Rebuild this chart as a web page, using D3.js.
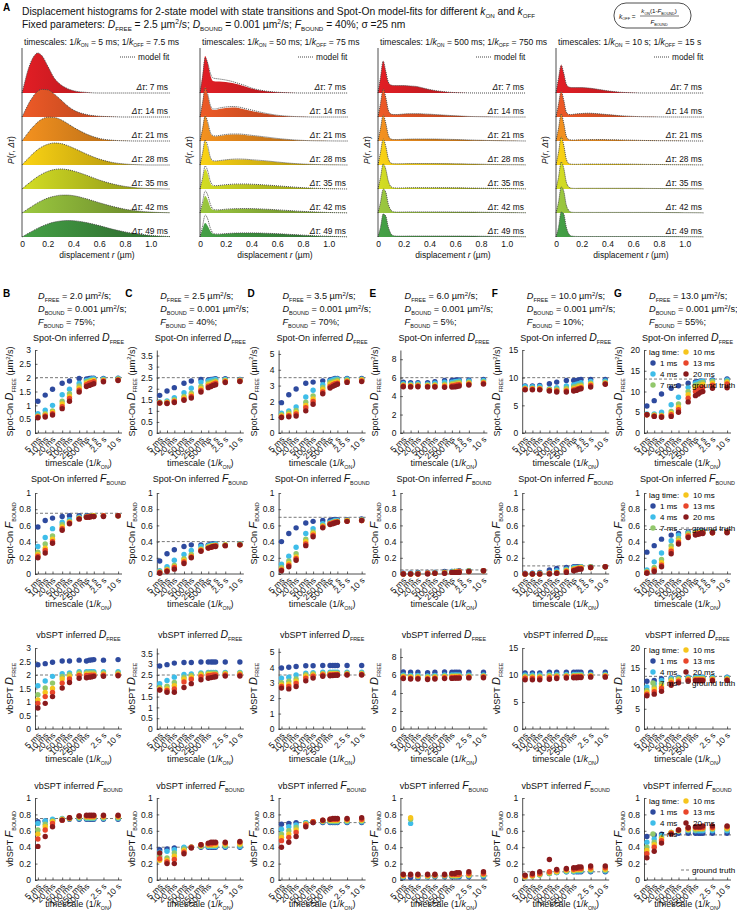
<!DOCTYPE html>
<html><head><meta charset="utf-8">
<script src="https://cdn.jsdelivr.net/npm/d3@7"></script>
<style>body{margin:0;background:#fff} svg{font-family:"Liberation Sans",Arial,Helvetica,sans-serif}</style>
</head><body><svg id="c" width="737" height="912"></svg>
<script>
// ---------------- DATA: panel A histograms ----------------
const rGrid = [0, 0.02, 0.04, 0.06, 0.08, 0.1, 0.12, 0.15, 0.2, 0.25, 0.3, 0.35, 0.4, 0.5, 0.6, 0.7, 0.8, 0.9, 1.0, 1.1, 1.15];
const lagLabelsA = ["7 ms", "14 ms", "21 ms", "28 ms", "35 ms", "42 ms", "49 ms"];
const kOnLabels = ["5 ms", "50 ms", "500 ms", "10 s"];
const kOffLabels = ["7.5 ms", "75 ms", "750 ms", "15 s"];
const rTicks = [0, 0.2, 0.4, 0.6, 0.8, 1.0];

const hist5ms = [
  [0, 10, 20, 28, 34, 38, 40, 38, 27, 15, 8.4, 4.6, 2.3, 0.6, 0, 0, 0, 0, 0, 0, 0],
  [0, 5.3, 10.4, 15.4, 19.3, 23, 25.5, 27.6, 27.2, 23, 17.4, 11.5, 7, 2.5, 0.8, 0.3, 0, 0, 0, 0, 0],
  [0, 3.6, 7, 10.3, 13.4, 16, 18.7, 21.4, 23.8, 23.5, 21.4, 17.8, 13.7, 7, 2.6, 0.8, 0.2, 0, 0, 0, 0],
  [0, 2.9, 5.5, 8.1, 10.8, 13, 15.2, 17.8, 20.7, 22, 21.5, 19.6, 16.9, 11, 5.9, 2.6, 1, 0.3, 0, 0, 0],
  [0, 2.2, 4.4, 6.4, 8.4, 10.4, 12.2, 14.6, 17.6, 19.4, 20, 19.4, 18, 13.8, 9, 5.2, 2.6, 1.1, 0.4, 0.1, 0],
  [0, 1.8, 3.6, 5.2, 6.8, 8.5, 10.1, 12.1, 14.9, 16.7, 17.8, 17.9, 17.3, 14.2, 10.3, 6.7, 3.8, 2, 0.9, 0.4, 0.2],
  [0, 1.5, 3, 4.5, 5.8, 7.3, 8.6, 10.4, 13, 14.9, 16, 16.5, 16.3, 14.4, 11.4, 7.9, 5.1, 3, 1.6, 0.7, 0.4]
];
const hist50ms = [
  [0, 18, 37, 30, 18, 12, 11.5, 11.5, 11, 10, 8.5, 6.5, 4.5, 2, 0.7, 0.2, 0, 0, 0, 0, 0],
  [0, 15, 30, 22, 11, 7, 7, 8, 9, 9.5, 9, 7.5, 6, 3.5, 1.6, 0.6, 0.2, 0, 0, 0, 0],
  [0, 13, 26, 18, 8, 5, 4.5, 5, 6, 6.5, 6.5, 6, 5.2, 3.8, 2.3, 1.2, 0.5, 0.2, 0.1, 0, 0],
  [0, 12, 24, 17, 7, 4, 3.8, 4.2, 5, 5.5, 5.6, 5.4, 5, 4, 2.8, 1.7, 0.9, 0.4, 0.2, 0.1, 0],
  [0, 10, 20, 15, 6, 3.3, 3, 3.4, 4.1, 4.6, 4.8, 4.8, 4.6, 3.9, 3, 2, 1.2, 0.6, 0.3, 0.1, 0],
  [0, 9, 17, 13, 6, 3.2, 2.8, 3, 3.6, 4, 4.2, 4.3, 4.2, 3.8, 3.1, 2.3, 1.5, 0.9, 0.5, 0.2, 0.1],
  [0, 8, 14, 11, 6, 3.3, 2.8, 2.8, 3.3, 3.7, 3.9, 4, 4, 3.7, 3.2, 2.5, 1.8, 1.1, 0.7, 0.3, 0.1]
];
const fit50ms = [
  [0, 16, 35, 30, 20, 15, 14.5, 14, 13, 11.5, 9.5, 7.5, 5, 2.2, 0.8, 0.2, 0, 0, 0, 0, 0],
  [0, 14, 29, 23, 12, 8, 8, 9, 10, 10.5, 10, 8.5, 7, 4, 1.8, 0.7, 0.2, 0, 0, 0, 0],
  [0, 12, 25, 19, 9, 5.5, 5, 5.5, 6.5, 7, 7, 6.5, 5.7, 4.2, 2.6, 1.4, 0.6, 0.2, 0.1, 0, 0],
  [0, 12, 25, 19, 8, 4.3, 4, 4.4, 5.2, 5.8, 6, 5.8, 5.3, 4.3, 3, 1.8, 1, 0.5, 0.2, 0.1, 0],
  [0, 11, 23, 18, 8, 3.8, 3.3, 3.6, 4.3, 4.8, 5, 5, 4.8, 4.1, 3.2, 2.2, 1.3, 0.7, 0.3, 0.1, 0],
  [0, 11, 22, 18, 9, 4, 3.2, 3.2, 3.8, 4.2, 4.4, 4.5, 4.4, 3.9, 3.2, 2.4, 1.6, 1, 0.5, 0.2, 0.1],
  [0, 11, 22, 18, 9, 4, 3, 3, 3.4, 3.8, 4, 4.1, 4.1, 3.8, 3.3, 2.6, 1.9, 1.2, 0.7, 0.3, 0.1]
];
const hist500ms = [
  [0, 16, 32, 22, 11, 8, 7.5, 7.5, 7.5, 7, 6.5, 5, 3.5, 1.5, 0.4, 0.1, 0, 0, 0, 0, 0],
  [0, 14, 28, 20, 7, 3, 2.5, 2.5, 3, 3.3, 3.3, 3.1, 2.8, 2, 1.2, 0.6, 0.3, 0.1, 0, 0, 0],
  [0, 13, 26, 18, 6, 2, 1.5, 1.5, 1.7, 1.9, 2, 2, 2, 1.8, 1.5, 1.1, 0.7, 0.4, 0.2, 0.1, 0],
  [0, 13, 26, 19, 6.5, 2, 1.3, 1.2, 1.3, 1.4, 1.5, 1.5, 1.5, 1.4, 1.2, 1, 0.8, 0.5, 0.3, 0.2, 0.1],
  [0, 12, 25, 20, 8, 2.5, 1.2, 1, 1.1, 1.2, 1.3, 1.3, 1.3, 1.3, 1.2, 1, 0.8, 0.6, 0.4, 0.2, 0.1],
  [0, 11, 24, 21, 9, 3, 1.2, 0.9, 1, 1.1, 1.1, 1.1, 1.1, 1.1, 1, 0.9, 0.8, 0.6, 0.4, 0.3, 0.2],
  [0, 10, 23, 21, 10, 3.5, 1.3, 0.9, 0.9, 1, 1, 1, 1, 1, 1, 0.9, 0.8, 0.6, 0.5, 0.3, 0.2]
];
const hist10s = [
  [0, 15, 28, 20, 9, 6, 5.5, 5.5, 5.5, 5, 4.2, 3.2, 2.2, 0.8, 0.2, 0, 0, 0, 0, 0, 0],
  [0, 13, 26, 17, 5, 2.5, 2.5, 3, 3.5, 3.8, 3.5, 3, 2.4, 1.3, 0.6, 0.2, 0.1, 0, 0, 0, 0],
  [0, 13, 27, 18, 5, 1.5, 1, 1, 1.2, 1.3, 1.4, 1.4, 1.3, 1.1, 0.8, 0.5, 0.3, 0.2, 0.1, 0, 0],
  [0, 13, 28, 20, 6, 1.5, 0.8, 0.7, 0.8, 0.9, 0.9, 0.9, 0.9, 0.9, 0.8, 0.6, 0.5, 0.3, 0.2, 0.1, 0.1],
  [0, 12, 27, 21, 7, 2, 0.8, 0.6, 0.7, 0.7, 0.7, 0.7, 0.7, 0.7, 0.7, 0.6, 0.5, 0.4, 0.3, 0.2, 0.1],
  [0, 11, 26, 22, 8, 2.5, 0.8, 0.6, 0.6, 0.6, 0.6, 0.6, 0.6, 0.6, 0.6, 0.6, 0.5, 0.4, 0.3, 0.2, 0.1],
  [0, 10, 25, 23, 10, 3, 1, 0.6, 0.5, 0.5, 0.5, 0.5, 0.5, 0.5, 0.5, 0.5, 0.5, 0.4, 0.3, 0.2, 0.1]
];

// ---------------- DATA: panels B-G ----------------
const timescales = [5, 10, 20, 50, 100, 250, 500, 650, 800, 1000, 2500, 10000]; // ms
const tickValsSpotOn = [5, 10, 20, 50, 100, 250, 500, 1000, 2500, 10000];
const tickLabelsSpotOn = ["5 ms", "10 ms", "20 ms", "50 ms", "100 ms", "250 ms", "500 ms", "1 s", "2.5 s", "10 s"];
const tickValsVb = [5, 10, 20, 50, 100, 250, 500, 2500, 10000];
const tickLabelsVb = ["5 ms", "10 ms", "20 ms", "50 ms", "100 ms", "250 ms", "500 ms", "2.5 s", "10 s"];
const lagTimes = ["1 ms", "4 ms", "7 ms", "10 ms", "13 ms", "20 ms"];
const panelLetters = ["B", "C", "D", "E", "F", "G"];
const dFreeText = ["2.0", "2.5", "3.5", "6.0", "10.0", "13.0"];
const fBoundText = ["75%", "40%", "70%", "5%", "10%", "55%"];
const dFreeTruth = [2.0, 2.5, 3.5, 6.0, 10.0, 13.0];
const fBoundTruth = [0.75, 0.40, 0.70, 0.05, 0.10, 0.55];
const dAxisMax = [3, 3.75, 5.25, 9, 15, 20];
const dAxisStep = [0.5, 0.5, 1, 2, 5, 5];

const spotD_B = [
  [1.15, 1.37, 1.58, 1.8, 1.88, 1.97, 1.95, 1.97, 1.98, 1.98, 1.97, 1.98],
  [0.7, 0.82, 1.0, 1.38, 1.58, 1.8, 1.9, 1.92, 1.95, 1.96, 1.95, 1.97],
  [0.62, 0.7, 0.8, 1.15, 1.42, 1.7, 1.85, 1.88, 1.9, 1.92, 1.93, 1.95],
  [0.6, 0.65, 0.75, 1.05, 1.32, 1.62, 1.8, 1.84, 1.87, 1.9, 1.9, 1.93],
  [0.58, 0.62, 0.7, 0.95, 1.25, 1.55, 1.75, 1.8, 1.82, 1.85, 1.88, 1.92],
  [0.55, 0.58, 0.65, 0.88, 1.15, 1.48, 1.68, 1.72, 1.75, 1.78, 1.85, 1.9]
];
const spotD_C = [
  [1.7, 1.9, 2.05, 2.25, 2.35, 2.42, 2.4, 2.42, 2.43, 2.45, 2.45, 2.42],
  [1.4, 1.45, 1.6, 1.82, 2.02, 2.3, 2.35, 2.38, 2.4, 2.42, 2.42, 2.4],
  [1.38, 1.4, 1.5, 1.65, 1.8, 2.1, 2.25, 2.28, 2.32, 2.35, 2.38, 2.38],
  [1.37, 1.38, 1.45, 1.58, 1.72, 2.0, 2.18, 2.22, 2.26, 2.3, 2.35, 2.37],
  [1.36, 1.36, 1.42, 1.52, 1.65, 1.92, 2.12, 2.15, 2.2, 2.25, 2.32, 2.35],
  [1.35, 1.33, 1.38, 1.48, 1.58, 1.85, 2.05, 2.1, 2.15, 2.18, 2.28, 2.33]
];
const spotD_D = [
  [1.92, 2.42, 2.78, 3.15, 3.22, 3.3, 3.35, 3.4, 3.45, 3.45, 3.45, 3.45],
  [1.25, 1.4, 1.65, 2.28, 2.7, 3.05, 3.3, 3.35, 3.4, 3.42, 3.42, 3.4],
  [1.15, 1.28, 1.42, 1.95, 2.35, 2.88, 3.2, 3.25, 3.3, 3.35, 3.35, 3.38],
  [1.08, 1.18, 1.3, 1.75, 2.15, 2.75, 3.08, 3.15, 3.2, 3.25, 3.3, 3.35],
  [1.02, 1.1, 1.2, 1.6, 2.0, 2.6, 2.95, 3.05, 3.12, 3.15, 3.25, 3.3],
  [0.98, 1.02, 1.08, 1.4, 1.82, 2.48, 2.85, 2.95, 3.02, 3.08, 3.2, 3.25]
];
const spotD_E = [
  [5.5, 5.45, 5.45, 5.45, 5.55, 5.7, 5.7, 5.72, 5.75, 5.75, 5.75, 5.8],
  [5.35, 5.3, 5.35, 5.3, 5.4, 5.5, 5.5, 5.55, 5.6, 5.65, 5.65, 5.7],
  [5.25, 5.2, 5.25, 5.2, 5.25, 5.3, 5.35, 5.4, 5.45, 5.5, 5.5, 5.55],
  [5.15, 5.12, 5.15, 5.12, 5.15, 5.15, 5.2, 5.25, 5.3, 5.35, 5.4, 5.45],
  [5.1, 5.05, 5.1, 5.05, 5.05, 5.05, 5.1, 5.15, 5.2, 5.25, 5.3, 5.4],
  [5.02, 5.0, 5.02, 5.0, 4.98, 4.95, 4.98, 5.0, 5.05, 5.1, 5.2, 5.3]
];
const spotD_F = [
  [8.5, 8.5, 8.6, 8.9, 9.2, 9.5, 9.5, 9.5, 9.6, 9.7, 9.7, 9.7],
  [8.4, 8.35, 8.4, 8.0, 8.2, 8.5, 8.7, 8.8, 8.9, 9.1, 9.3, 9.4],
  [8.1, 8.1, 8.1, 7.9, 7.9, 8.1, 8.3, 8.4, 8.6, 8.7, 9.0, 9.2],
  [8.0, 8.0, 8.0, 7.8, 7.7, 7.8, 8.0, 8.1, 8.3, 8.4, 8.8, 9.0],
  [7.9, 7.9, 7.9, 7.7, 7.6, 7.6, 7.8, 7.9, 8.0, 8.2, 8.6, 8.9],
  [7.8, 7.8, 7.8, 7.6, 7.4, 7.4, 7.6, 7.7, 7.9, 8.0, 8.3, 8.8]
];
const spotD_G = [
  [6.5, 7.8, 9.4, 10.8, 11.4, 12.0, 12.3, 12.4, 12.5, 12.5, 12.8, 13.0],
  [4.6, 4.6, 5.0, 6.8, 8.6, 11.0, 12.0, 12.2, 12.4, 12.5, 12.6, 12.8],
  [4.5, 4.4, 4.3, 5.2, 7.0, 10.0, 11.5, 11.7, 12.0, 12.2, 12.4, 12.5],
  [4.4, 4.2, 4.1, 4.7, 6.2, 9.2, 10.8, 11.1, 11.4, 11.7, 12.0, 12.2],
  [4.4, 4.1, 4.0, 4.4, 5.6, 8.4, 10.0, 10.4, 10.8, 11.0, 11.5, 11.8],
  [4.4, 4.0, 3.8, 4.0, 5.0, 7.5, 9.0, 9.4, 9.8, 10.0, 10.8, 10.9]
];
const spotF_B = [
  [0.58, 0.66, 0.69, 0.71, 0.72, 0.72, 0.72, 0.72, 0.72, 0.72, 0.72, 0.72],
  [0.34, 0.45, 0.56, 0.64, 0.67, 0.7, 0.71, 0.71, 0.72, 0.72, 0.72, 0.72],
  [0.27, 0.37, 0.47, 0.61, 0.65, 0.69, 0.71, 0.71, 0.72, 0.72, 0.72, 0.72],
  [0.24, 0.32, 0.43, 0.58, 0.64, 0.69, 0.7, 0.71, 0.71, 0.72, 0.72, 0.72],
  [0.22, 0.29, 0.4, 0.56, 0.63, 0.68, 0.7, 0.71, 0.71, 0.71, 0.72, 0.72],
  [0.2, 0.26, 0.38, 0.54, 0.62, 0.68, 0.7, 0.7, 0.71, 0.71, 0.71, 0.72]
];
const spotF_C = [
  [0.16, 0.25, 0.3, 0.34, 0.36, 0.36, 0.36, 0.37, 0.37, 0.37, 0.36, 0.37],
  [0.04, 0.09, 0.17, 0.24, 0.29, 0.34, 0.35, 0.36, 0.36, 0.37, 0.36, 0.37],
  [0.03, 0.06, 0.11, 0.19, 0.24, 0.31, 0.34, 0.35, 0.35, 0.36, 0.36, 0.37],
  [0.02, 0.05, 0.09, 0.17, 0.22, 0.3, 0.33, 0.34, 0.35, 0.35, 0.36, 0.36],
  [0.02, 0.04, 0.08, 0.15, 0.21, 0.29, 0.32, 0.33, 0.34, 0.35, 0.35, 0.36],
  [0.01, 0.03, 0.06, 0.13, 0.2, 0.28, 0.32, 0.33, 0.34, 0.34, 0.35, 0.36]
];
const spotF_D = [
  [0.4, 0.5, 0.57, 0.63, 0.65, 0.66, 0.66, 0.67, 0.67, 0.67, 0.67, 0.68],
  [0.12, 0.22, 0.33, 0.5, 0.56, 0.62, 0.64, 0.65, 0.66, 0.66, 0.66, 0.67],
  [0.08, 0.16, 0.25, 0.43, 0.52, 0.6, 0.63, 0.64, 0.65, 0.65, 0.66, 0.67],
  [0.06, 0.13, 0.21, 0.4, 0.5, 0.59, 0.62, 0.63, 0.64, 0.65, 0.66, 0.66],
  [0.05, 0.11, 0.19, 0.37, 0.48, 0.58, 0.62, 0.63, 0.64, 0.64, 0.65, 0.66],
  [0.04, 0.09, 0.17, 0.35, 0.46, 0.57, 0.61, 0.62, 0.63, 0.64, 0.65, 0.66]
];
const spotF_E = [
  [0.01, 0.01, 0.02, 0.02, 0.02, 0.03, 0.03, 0.03, 0.03, 0.04, 0.04, 0.04],
  [0.0, 0.01, 0.01, 0.01, 0.02, 0.02, 0.03, 0.03, 0.03, 0.03, 0.04, 0.04],
  [0.0, 0.0, 0.01, 0.01, 0.01, 0.02, 0.02, 0.03, 0.03, 0.03, 0.04, 0.04],
  [0.0, 0.0, 0.0, 0.01, 0.01, 0.02, 0.02, 0.02, 0.03, 0.03, 0.03, 0.04],
  [0.0, 0.0, 0.0, 0.01, 0.01, 0.01, 0.02, 0.02, 0.02, 0.03, 0.03, 0.04],
  [0.0, 0.0, 0.0, 0.0, 0.01, 0.01, 0.02, 0.02, 0.02, 0.02, 0.03, 0.04]
];
const spotF_F = [
  [0.01, 0.01, 0.02, 0.05, 0.07, 0.08, 0.09, 0.09, 0.09, 0.09, 0.09, 0.09],
  [0.0, 0.01, 0.01, 0.02, 0.04, 0.06, 0.08, 0.08, 0.08, 0.09, 0.09, 0.09],
  [0.0, 0.0, 0.01, 0.01, 0.02, 0.05, 0.07, 0.07, 0.08, 0.08, 0.09, 0.09],
  [0.0, 0.0, 0.0, 0.01, 0.02, 0.04, 0.06, 0.07, 0.07, 0.08, 0.08, 0.09],
  [0.0, 0.0, 0.0, 0.01, 0.01, 0.03, 0.05, 0.06, 0.07, 0.07, 0.08, 0.09],
  [0.0, 0.0, 0.0, 0.0, 0.01, 0.02, 0.04, 0.05, 0.06, 0.06, 0.08, 0.09]
];
const spotF_G = [
  [0.27, 0.35, 0.43, 0.48, 0.5, 0.52, 0.52, 0.52, 0.53, 0.53, 0.52, 0.53],
  [0.05, 0.15, 0.26, 0.41, 0.48, 0.51, 0.52, 0.52, 0.52, 0.52, 0.52, 0.52],
  [0.03, 0.08, 0.18, 0.35, 0.44, 0.5, 0.51, 0.51, 0.52, 0.52, 0.52, 0.52],
  [0.02, 0.06, 0.14, 0.31, 0.41, 0.48, 0.5, 0.51, 0.51, 0.51, 0.51, 0.52],
  [0.02, 0.05, 0.11, 0.28, 0.39, 0.47, 0.49, 0.5, 0.5, 0.51, 0.51, 0.52],
  [0.01, 0.03, 0.09, 0.25, 0.37, 0.45, 0.48, 0.49, 0.5, 0.5, 0.51, 0.51]
];
const vbD_B = [
  [2.38, 2.42, 2.47, 2.52, 2.52, 2.55, 2.52, 2.55, 2.56, 2.57, 2.55, 2.57],
  [1.6, 1.78, 1.95, 2.05, 2.08, 2.12, 2.12, 2.12, 2.12, 2.12, 2.12, 2.12],
  [1.27, 1.52, 1.7, 1.95, 2.02, 2.08, 2.08, 2.08, 2.08, 2.08, 2.08, 2.08],
  [1.08, 1.35, 1.5, 1.85, 1.95, 2.02, 2.03, 2.03, 2.03, 2.03, 2.03, 2.03],
  [0.95, 1.2, 1.35, 1.7, 1.85, 1.98, 1.98, 1.98, 1.99, 1.99, 1.99, 2.0],
  [0.78, 0.95, 1.2, 1.52, 1.72, 1.88, 1.9, 1.92, 1.93, 1.95, 1.95, 1.97]
];
const vbD_C = [
  [2.92, 2.98, 3.05, 3.08, 3.08, 3.1, 3.1, 3.1, 3.1, 3.1, 3.1, 3.1],
  [2.1, 2.25, 2.4, 2.52, 2.55, 2.6, 2.62, 2.62, 2.62, 2.62, 2.62, 2.62],
  [1.92, 1.98, 2.15, 2.4, 2.48, 2.56, 2.58, 2.58, 2.58, 2.58, 2.58, 2.6],
  [1.85, 1.85, 2.0, 2.3, 2.4, 2.5, 2.52, 2.52, 2.53, 2.53, 2.55, 2.55],
  [1.82, 1.78, 1.85, 2.18, 2.3, 2.42, 2.47, 2.48, 2.5, 2.5, 2.5, 2.5],
  [1.8, 1.7, 1.7, 1.92, 2.1, 2.28, 2.35, 2.38, 2.4, 2.42, 2.45, 2.45]
];
const vbD_D = [
  [3.95, 4.0, 4.05, 4.1, 4.1, 4.12, 4.12, 4.12, 4.12, 4.12, 4.12, 4.12],
  [3.3, 3.35, 3.5, 3.62, 3.65, 3.68, 3.68, 3.68, 3.68, 3.68, 3.68, 3.68],
  [3.0, 3.1, 3.25, 3.52, 3.58, 3.6, 3.62, 3.62, 3.62, 3.62, 3.62, 3.62],
  [2.85, 2.9, 3.1, 3.42, 3.5, 3.55, 3.56, 3.57, 3.57, 3.57, 3.57, 3.57],
  [2.75, 2.75, 2.95, 3.3, 3.42, 3.5, 3.52, 3.52, 3.52, 3.53, 3.53, 3.53],
  [2.65, 2.6, 2.75, 3.12, 3.3, 3.42, 3.45, 3.47, 3.48, 3.48, 3.5, 3.5]
];
const vbD_E = [
  [6.35, 6.3, 6.3, 6.25, 6.3, 6.35, 6.3, 6.3, 6.3, 6.3, 6.3, 6.3],
  [6.0, 5.95, 5.95, 5.9, 5.95, 6.0, 6.0, 6.0, 6.0, 6.0, 6.0, 6.0],
  [5.9, 5.85, 5.85, 5.8, 5.85, 5.9, 5.9, 5.9, 5.9, 5.9, 5.9, 5.92],
  [5.8, 5.75, 5.75, 5.7, 5.75, 5.8, 5.8, 5.82, 5.82, 5.82, 5.82, 5.85],
  [5.7, 5.65, 5.65, 5.6, 5.65, 5.7, 5.72, 5.72, 5.72, 5.75, 5.75, 5.78],
  [5.6, 5.55, 5.55, 5.5, 5.55, 5.6, 5.62, 5.65, 5.65, 5.65, 5.68, 5.7]
];
const vbD_F = [
  [10.4, 10.4, 10.4, 10.5, 10.5, 10.5, 10.5, 10.5, 10.5, 10.5, 10.5, 10.5],
  [10.0, 10.0, 10.0, 10.1, 10.1, 10.1, 10.1, 10.1, 10.1, 10.1, 10.1, 10.1],
  [9.8, 9.8, 9.8, 9.9, 9.9, 9.9, 9.9, 9.9, 9.95, 9.95, 9.95, 9.95],
  [9.6, 9.6, 9.6, 9.7, 9.75, 9.8, 9.8, 9.8, 9.8, 9.8, 9.85, 9.85],
  [9.4, 9.4, 9.4, 9.5, 9.6, 9.65, 9.7, 9.7, 9.7, 9.7, 9.75, 9.75],
  [9.1, 9.1, 9.1, 9.2, 9.35, 9.45, 9.5, 9.5, 9.55, 9.55, 9.6, 9.6]
];
const vbD_G = [
  [11.8, 12.0, 12.4, 12.6, 12.7, 12.8, 12.8, 12.8, 12.8, 12.8, 12.8, 12.8],
  [10.4, 11.2, 12.0, 12.5, 12.6, 12.7, 12.7, 12.7, 12.7, 12.7, 12.7, 12.7],
  [9.5, 10.4, 11.2, 12.2, 12.4, 12.5, 12.5, 12.5, 12.5, 12.5, 12.5, 12.5],
  [9.0, 9.8, 10.5, 11.8, 12.1, 12.3, 12.3, 12.3, 12.3, 12.3, 12.3, 12.3],
  [8.6, 9.2, 10.0, 11.4, 11.8, 12.1, 12.1, 12.1, 12.1, 12.1, 12.1, 12.1],
  [8.2, 8.6, 9.3, 10.8, 11.4, 11.8, 11.9, 11.9, 11.9, 11.9, 11.9, 12.0]
];
const vbF_B = [
  [0.71, 0.72, 0.73, 0.74, 0.74, 0.74, 0.74, 0.74, 0.74, 0.74, 0.74, 0.74],
  [0.69, 0.72, 0.74, 0.75, 0.75, 0.75, 0.75, 0.75, 0.75, 0.75, 0.75, 0.75],
  [0.61, 0.68, 0.72, 0.74, 0.75, 0.76, 0.76, 0.76, 0.76, 0.76, 0.76, 0.76],
  [0.56, 0.65, 0.71, 0.74, 0.75, 0.77, 0.77, 0.77, 0.77, 0.77, 0.77, 0.77],
  [0.5, 0.61, 0.69, 0.73, 0.76, 0.78, 0.78, 0.78, 0.78, 0.78, 0.78, 0.78],
  [0.41, 0.53, 0.65, 0.73, 0.76, 0.78, 0.79, 0.79, 0.79, 0.79, 0.79, 0.79]
];
const vbF_C = [
  [0.37, 0.38, 0.39, 0.39, 0.4, 0.4, 0.4, 0.4, 0.4, 0.4, 0.4, 0.4],
  [0.34, 0.35, 0.37, 0.4, 0.4, 0.41, 0.41, 0.41, 0.41, 0.41, 0.41, 0.41],
  [0.29, 0.27, 0.33, 0.38, 0.4, 0.41, 0.42, 0.42, 0.42, 0.42, 0.42, 0.43],
  [0.24, 0.24, 0.29, 0.36, 0.4, 0.42, 0.43, 0.43, 0.43, 0.43, 0.44, 0.44],
  [0.26, 0.22, 0.25, 0.34, 0.4, 0.43, 0.44, 0.44, 0.45, 0.45, 0.45, 0.46],
  [0.33, 0.2, 0.2, 0.32, 0.39, 0.43, 0.45, 0.46, 0.46, 0.46, 0.46, 0.47]
];
const vbF_D = [
  [0.68, 0.69, 0.7, 0.7, 0.7, 0.7, 0.7, 0.7, 0.7, 0.7, 0.7, 0.7],
  [0.62, 0.65, 0.67, 0.7, 0.71, 0.71, 0.71, 0.71, 0.71, 0.71, 0.71, 0.71],
  [0.56, 0.6, 0.64, 0.69, 0.71, 0.72, 0.72, 0.72, 0.72, 0.72, 0.72, 0.72],
  [0.52, 0.56, 0.61, 0.68, 0.71, 0.72, 0.73, 0.73, 0.73, 0.73, 0.73, 0.73],
  [0.48, 0.52, 0.58, 0.67, 0.71, 0.73, 0.74, 0.74, 0.74, 0.74, 0.74, 0.74],
  [0.4, 0.46, 0.53, 0.65, 0.7, 0.73, 0.74, 0.75, 0.75, 0.75, 0.75, 0.76]
];
const vbF_E = [
  [0.03, 0.03, 0.03, 0.04, 0.04, 0.04, 0.04, 0.04, 0.04, 0.04, 0.04, 0.04],
  [0.04, 0.69, 0.04, 0.04, 0.05, 0.05, 0.05, 0.05, 0.05, 0.05, 0.05, 0.05],
  [0.05, 0.74, 0.05, 0.05, 0.05, 0.05, 0.05, 0.05, 0.05, 0.06, 0.06, 0.06],
  [0.05, 0.76, 0.05, 0.05, 0.06, 0.06, 0.06, 0.06, 0.06, 0.06, 0.06, 0.07],
  [0.06, 0.06, 0.06, 0.06, 0.06, 0.06, 0.07, 0.07, 0.07, 0.07, 0.08, 0.08],
  [0.07, 0.07, 0.07, 0.07, 0.07, 0.07, 0.08, 0.08, 0.09, 0.09, 0.1, 0.1]
];
const vbF_F = [
  [0.05, 0.06, 0.07, 0.08, 0.09, 0.1, 0.1, 0.1, 0.1, 0.1, 0.1, 0.1],
  [0.04, 0.05, 0.06, 0.08, 0.09, 0.1, 0.1, 0.11, 0.11, 0.11, 0.11, 0.11],
  [0.04, 0.05, 0.06, 0.08, 0.1, 0.11, 0.11, 0.12, 0.12, 0.12, 0.12, 0.12],
  [0.04, 0.05, 0.07, 0.09, 0.1, 0.12, 0.12, 0.13, 0.13, 0.13, 0.13, 0.13],
  [0.05, 0.06, 0.08, 0.1, 0.12, 0.13, 0.13, 0.14, 0.14, 0.14, 0.15, 0.15],
  [0.06, 0.08, 0.1, 0.25, 0.13, 0.14, 0.15, 0.15, 0.16, 0.16, 0.17, 0.17]
];
const vbF_G = [
  [0.53, 0.55, 0.56, 0.57, 0.57, 0.57, 0.57, 0.57, 0.57, 0.57, 0.57, 0.57],
  [0.46, 0.5, 0.54, 0.58, 0.59, 0.6, 0.6, 0.6, 0.6, 0.6, 0.6, 0.6],
  [0.4, 0.46, 0.52, 0.58, 0.6, 0.61, 0.61, 0.62, 0.62, 0.62, 0.62, 0.62],
  [0.36, 0.43, 0.5, 0.58, 0.6, 0.62, 0.63, 0.63, 0.63, 0.63, 0.63, 0.63],
  [0.32, 0.4, 0.48, 0.57, 0.61, 0.63, 0.64, 0.64, 0.64, 0.64, 0.64, 0.65],
  [0.27, 0.35, 0.45, 0.56, 0.61, 0.64, 0.65, 0.65, 0.65, 0.66, 0.66, 0.66]
];

// ---------------- STYLE ----------------
const rowColorsA = ["#e31e25", "#ee5a27", "#f5921f", "#fbd314", "#d4de24", "#9cc93f", "#45a146"];
const lagColors = ["#2e4a9e", "#3ebde9", "#92c86c", "#f6c51d", "#e9462b", "#8a1a1c"];
const FONT = 8.5;

const svg = d3.select("#c");

function rich(parent, x, y, parts, size, anchor) {
  const t = parent.append("text").attr("x", x).attr("y", y).attr("font-size", size)
    .attr("text-anchor", anchor || "start").attr("fill", "#111");
  let cur = 0;
  parts.forEach(p => {
    if (typeof p === "string") p = {t: p};
    const sh = p.sub ? size * 0.28 : p.sup ? -size * 0.38 : 0;
    const s = t.append("tspan").text(p.t).attr("dy", sh - cur);
    cur = sh;
    if (p.i) s.attr("font-style", "italic");
    if (p.sub) s.attr("font-size", size * 0.6);
    if (p.sup) s.attr("font-size", size * 0.65);
    if (p.fs) s.attr("font-size", p.fs);
  });
  return t;
}

// ---------------- PANEL A header ----------------
svg.append("text").attr("x", 3).attr("y", 11).attr("font-size", 10).attr("font-weight", "bold").text("A");
rich(svg, 22, 15, ["Displacement histograms for 2-state model with state transitions and Spot-On model-fits for different ",
  {t: "k", i: true}, {t: "ON", sub: true}, " and ", {t: "k", i: true}, {t: "OFF", sub: true}], 10.3);
rich(svg, 22, 28, ["Fixed parameters: ", {t: "D", i: true}, {t: "FREE", sub: true}, " = 2.5 µm", {t: "2", sup: true}, "/s; ",
  {t: "D", i: true}, {t: "BOUND", sub: true}, " = 0.001 µm", {t: "2", sup: true}, "/s; ",
  {t: "F", i: true}, {t: "BOUND", sub: true}, " = 40%;  σ =25 nm"], 10.3);

svg.append("rect").attr("x", 614).attr("y", 3).attr("width", 77).attr("height", 25).attr("rx", 12)
  .attr("fill", "none").attr("stroke", "#222").attr("stroke-width", 0.8);
rich(svg, 619, 18.5, [{t: "k", i: true}, {t: "OFF", sub: true}, " ="], 6.5);
rich(svg, 659, 13, [{t: "k", i: true}, {t: "ON", sub: true}, "(1-", {t: "F", i: true}, {t: "BOUND", sub: true}, ")"], 6.2, "middle");
svg.append("line").attr("x1", 640).attr("x2", 679).attr("y1", 16).attr("y2", 16).attr("stroke", "#222").attr("stroke-width", 0.6);
rich(svg, 659, 24, [{t: "F", i: true}, {t: "BOUND", sub: true}], 6.2, "middle");

// ---------------- PANEL A histograms ----------------
const colX0 = [22, 200, 378, 556];
const histSets = [hist5ms, hist50ms, hist500ms, hist10s];
const fitSets = [hist5ms, fit50ms, hist500ms, hist10s];
const baseY0 = 93, rowStep = 24;
const hScale = d3.scaleLinear().domain([0, 40]).range([0, 40]);
const defs = svg.append("defs");

histSets.forEach((hs, c) => {
  const x0 = colX0[c];
  const xs = d3.scaleLinear().domain([0, 1.15]).range([x0, x0 + 148]);
  const g = svg.append("g");
  rich(g, x0 + 2, 45, ["timescales: 1/", {t: "k", i: true}, {t: "ON", sub: true}, " = " + kOnLabels[c] + "; 1/",
    {t: "k", i: true}, {t: "OFF", sub: true}, " = " + kOffLabels[c]], 8.6);
  g.append("line").attr("x1", x0 + 98).attr("x2", x0 + 114).attr("y1", 57).attr("y2", 57)
    .attr("stroke", "#444").attr("stroke-width", 1).attr("stroke-dasharray", "1,1");
  g.append("text").attr("x", x0 + 116).attr("y", 60).attr("font-size", 8.3).attr("fill", "#111").text("model fit");

  hs.forEach((row, k) => {
    const base = baseY0 + k * rowStep;
    const gid = `gA${c}_${k}`;
    const grad = defs.append("linearGradient").attr("id", gid).attr("gradientUnits", "userSpaceOnUse")
      .attr("x1", xs(0)).attr("x2", xs(0.8)).attr("y1", 0).attr("y2", 0);
    grad.append("stop").attr("offset", 0).attr("stop-color", rowColorsA[k]);
    grad.append("stop").attr("offset", 1).attr("stop-color", d3.color(rowColorsA[k]).darker(0.9));
    const area = d3.area().x((d, i) => xs(rGrid[i])).y0(base).y1(d => base - hScale(d)).curve(d3.curveMonotoneX);
    g.append("path").datum(row).attr("d", area).attr("fill", `url(#${gid})`);
    const line = d3.line().x((d, i) => xs(rGrid[i])).y(d => base - hScale(d)).curve(d3.curveMonotoneX);
    g.append("path").datum(fitSets[c][k]).attr("d", line).attr("fill", "none")
      .attr("stroke", "#4a4a4a").attr("stroke-width", 1).attr("stroke-dasharray", "1,1");
    rich(g, x0 + 146, base - 3, [{t: "Δτ", i: true}, ": " + lagLabelsA[k]], 8.4, "end");
  });
  g.append("line").attr("x1", x0).attr("x2", x0).attr("y1", 48).attr("y2", baseY0 + 6 * rowStep)
    .attr("stroke", "#222").attr("stroke-width", 0.8);
  const ax = g.append("g").attr("transform", `translate(0,${baseY0 + 6 * rowStep})`)
    .call(d3.axisBottom(xs).tickValues(rTicks).tickSize(0).tickPadding(4).tickFormat(d => d === 0 ? "0" : d3.format(".1f")(d)));
  ax.select(".domain").remove();
  ax.selectAll("text").attr("font-size", 8.5).attr("fill", "#111").attr("font-family", null);
  rich(g, x0 + 75, 258, ["displacement ", {t: "r", i: true}, " (µm)"], 8.5, "middle");
  const yl = g.append("g").attr("transform", `translate(${x0 - 8},150) rotate(-90)`);
  rich(yl, 0, 0, [{t: "P", i: true}, "(", {t: "r", i: true}, ", ", {t: "Δτ", i: true}, ")"], 8.5, "middle");
});

// ---------------- PANELS B-G ----------------
const rowTop = [350, 493, 648, 798];
const rowBot = [433, 574, 729, 880];
const titleY = [341, 482, 638, 789];
const xlabY = [466, 607, 762, 907];
const rowData = [
  [spotD_B, spotD_C, spotD_D, spotD_E, spotD_F, spotD_G],
  [spotF_B, spotF_C, spotF_D, spotF_E, spotF_F, spotF_G],
  [vbD_B, vbD_C, vbD_D, vbD_E, vbD_F, vbD_G],
  [vbF_B, vbF_C, vbF_D, vbF_E, vbF_F, vbF_G]
];
const rowMethod = ["Spot-On", "Spot-On", "vbSPT", "vbSPT"];
const rowIsD = [true, false, true, false];
const colLeft = j => 35 + j * 121.8;
const plotW = 87;

panelLetters.forEach((L, j) => {
  const lx = 3 + j * 122.2;
  svg.append("text").attr("x", lx).attr("y", 297).attr("font-size", 10).attr("font-weight", "bold").text(L);
  const tx = lx + 35;
  rich(svg, tx, 299, [{t: "D", i: true}, {t: "FREE", sub: true}, " = " + dFreeText[j] + " µm", {t: "2", sup: true}, "/s;"], 9.2);
  rich(svg, tx, 312, [{t: "D", i: true}, {t: "BOUND", sub: true}, " = 0.001 µm", {t: "2", sup: true}, "/s;"], 9.2);
  rich(svg, tx, 325, [{t: "F", i: true}, {t: "BOUND", sub: true}, " = " + fBoundText[j] + ";"], 9.2);
});

rowData.forEach((panels, r) => {
  const tv = r < 2 ? tickValsSpotOn : tickValsVb;
  const tl = r < 2 ? tickLabelsSpotOn : tickLabelsVb;
  panels.forEach((series, j) => {
    const left = colLeft(j), right = left + plotW;
    const top = rowTop[r], bot = rowBot[r];
    const isD = rowIsD[r];
    const yMax = isD ? dAxisMax[j] : 1;
    const step = isD ? dAxisStep[j] : 0.2;
    const x = d3.scaleLog().domain([3.8, 14500]).range([left, right]);
    const y = d3.scaleLinear().domain([0, yMax]).range([bot, top]);
    const g = svg.append("g");
    const yt = d3.range(0, yMax + 1e-9, step);
    const ya = g.append("g").attr("transform", `translate(${left},0)`)
      .call(d3.axisLeft(y).tickValues(yt).tickSizeInner(-2.5).tickSizeOuter(0).tickPadding(4)
        .tickFormat(d => d3.format("~g")(+d.toFixed(2))));
    ya.select(".domain").attr("stroke", "#222").attr("stroke-width", 0.8);
    ya.selectAll(".tick line").attr("stroke", "#222").attr("stroke-width", 0.7);
    ya.selectAll("text").attr("font-size", FONT).attr("fill", "#111").attr("font-family", null);
    const xa = g.append("g").attr("transform", `translate(0,${bot})`)
      .call(d3.axisBottom(x).tickValues(tv).tickSizeInner(-2.5).tickSizeOuter(0).tickFormat((d, i) => tl[i]));
    xa.select(".domain").attr("stroke", "#222").attr("stroke-width", 0.8).attr("d", `M${left},0H${right}`);
    xa.selectAll(".tick line").attr("stroke", "#222").attr("stroke-width", 0.7);
    xa.selectAll("text").attr("font-size", FONT).attr("fill", "#111").attr("font-family", null)
      .attr("text-anchor", "end").attr("dy", null).attr("y", 0)
      .attr("transform", "translate(3,7) rotate(-45)");
    const truth = isD ? dFreeTruth[j] : fBoundTruth[j];
    g.append("line").attr("x1", left).attr("x2", right).attr("y1", y(truth)).attr("y2", y(truth))
      .attr("stroke", "#555").attr("stroke-width", 0.8).attr("stroke-dasharray", "3,2");
    series.forEach((vals, s) => {
      g.selectAll(null).data(vals).enter().append("circle")
        .attr("cx", (d, i) => x(timescales[i])).attr("cy", d => y(d)).attr("r", 2.7)
        .attr("fill", lagColors[s]);
    });
    rich(g, left + plotW / 2, titleY[r], [rowMethod[r] + " inferred ", {t: isD ? "D" : "F", i: true, fs: 10.5},
      {t: isD ? "FREE" : "BOUND", sub: true}], 9, "middle");
    rich(g, left + plotW / 2, xlabY[r], ["timescale (1/", {t: "k", i: true}, {t: "ON", sub: true}, ")"], 9, "middle");
    const yl = g.append("g").attr("transform", `translate(${left - 22},${(top + bot) / 2}) rotate(-90)`);
    const parts = [rowMethod[r] + "  ", {t: isD ? "D" : "F", i: true, fs: 11}, {t: isD ? "FREE" : "BOUND", sub: true}];
    if (isD && r === 0) parts.push(" (µm", {t: "2", sup: true}, "/s)");
    rich(yl, 0, 0, parts, 9, "middle");
    if (j === 5) {
      const LF = 8;
      const ly = r === 3 ? top + 3 : top + 2;
      const lg = g.append("g");
      lg.append("text").attr("x", left + 5).attr("y", ly + 3).attr("font-size", LF).text("lag time:");
      lagTimes.forEach((lt, s) => {
        const col = s < 3 ? 0 : 1;
        const rowi = s < 3 ? s + 1 : s - 3;
        const cx = col === 0 ? left + 9 : left + 42;
        const cy = ly + rowi * 11;
        lg.append("circle").attr("cx", cx).attr("cy", cy).attr("r", 2.7).attr("fill", lagColors[s]);
        lg.append("text").attr("x", cx + 7).attr("y", cy + 3).attr("font-size", LF).text(lt);
      });
      const gy = r === 3 ? bot - 10 : ly + 33;
      lg.append("line").attr("x1", left + 37).attr("x2", left + 45).attr("y1", gy).attr("y2", gy)
        .attr("stroke", "#555").attr("stroke-width", 0.8).attr("stroke-dasharray", "3,2");
      lg.append("text").attr("x", left + 48).attr("y", gy + 3).attr("font-size", LF).text("ground truth");
    }
  });
});
</script></body></html>
